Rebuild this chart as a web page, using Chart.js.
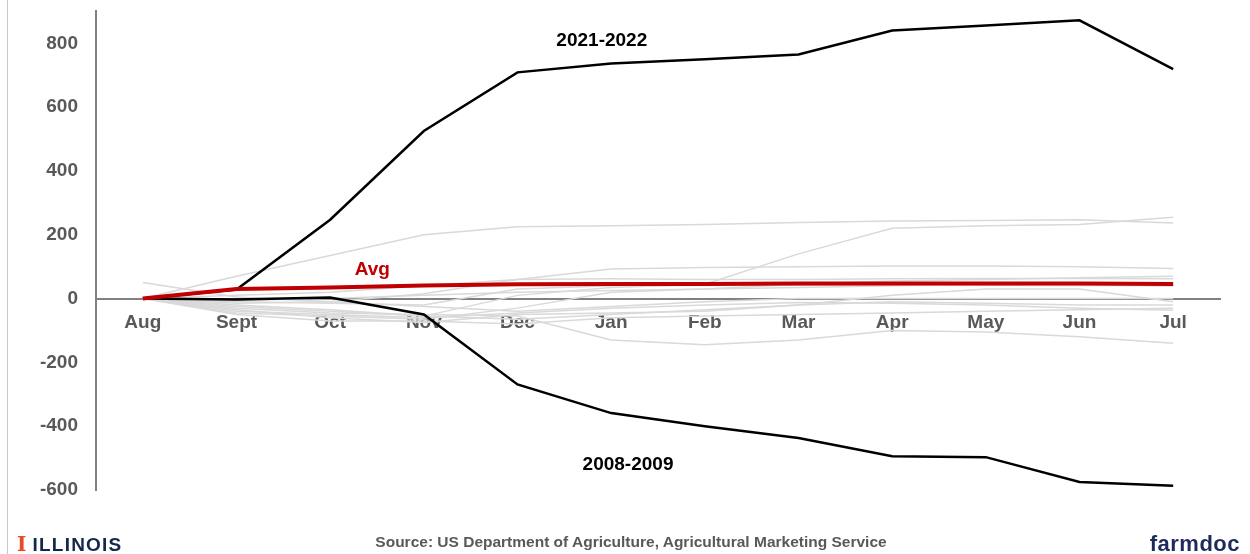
<!DOCTYPE html>
<html>
<head>
  <title>Cumulative change by marketing year</title>
  <style>
    body {
      margin: 0;
      background: #fff;
      font-family: 'Liberation Sans', Arial, sans-serif;
    }
    .wrap {
      position: relative;
      width: 1250px;
      height: 554px;
      overflow: hidden;
    }
    .edge {
      position: absolute;
      left: 7px;
      top: 0;
      width: 1px;
      height: 554px;
      background: #c8c8c8;
    }
    /* canvas shifted up so the plot starts near the top edge */
    canvas { position: absolute; left: 0; top: -18px; }
    .logo {
      position: absolute;
      left: 17px;
      top: 532px;
      font-size: 19px;
      font-weight: bold;
      color: #13294b;
      letter-spacing: 1.2px;
    }
    .logo span {
      font-family: 'DejaVu Serif', serif;
      color: #e84a27;
      font-size: 20px;
      margin-right: 5px;
    }
    .source {
      position: absolute;
      left: 0;
      width: 1262px;
      top: 533px;
      text-align: center;
      font-size: 15.5px;
      font-weight: bold;
      color: #595959;
    }
    .farmdoc {
      position: absolute;
      right: 10px;
      top: 531px;
      font-size: 22px;
      font-weight: bold;
      color: #1f2a5c;
      letter-spacing: 0.5px;
    }
  </style>
</head>
<body>
  <div class="wrap">
    <canvas id="chart" width="1250" height="572"></canvas>
    <div class="edge"></div>
    <div class="logo"><span>I</span>ILLINOIS</div>
    <div class="source">Source: US Department of Agriculture, Agricultural Marketing Service</div>
    <div class="farmdoc">farmdoc</div>
  </div>

  <script src="https://cdn.jsdelivr.net/npm/chart.js"></script>
  <script>
    // marketing year months
    const months = ["Aug", "Sept", "Oct", "Nov", "Dec", "Jan", "Feb", "Mar", "Apr", "May", "Jun", "Jul"];
    const yTicks = [-600, -400, -200, 0, 200, 400, 600, 800];

    const avg = [0, 30, 35, 41, 45, 46, 46, 47, 47, 47, 47, 46];
    const y2021 = [0, 28, 247, 525, 709, 737, 750, 765, 840, 856, 872, 719];
    const y2008 = [0, -3, 3, -50, -269, -359, -400, -437, -494, -497, -575, -587];

    // the other years, drawn in light gray
    const other1 = [0, 70, 135, 200, 225, 228, 232, 238, 243, 245, 247, 237];
    const other2 = [0, -20, -35, -55, 10, 35, 45, 140, 220, 228, 232, 255];
    const other3 = [0, -15, -10, 15, 60, 93, 97, 100, 102, 102, 100, 94];
    const other4 = [0, -30, -45, -50, -55, -130, -145, -130, -100, -105, -120, -140];
    const other5 = [0, 10, 20, 40, 60, 62, 60, 60, 62, 63, 63, 62];
    const other6 = [0, -10, -15, -20, 30, 40, 42, 42, 42, 42, 41, 40];
    const other7 = [0, -35, -60, -75, -50, -45, -40, -20, 10, 30, 30, -10];
    const other8 = [0, -40, -50, -60, -45, -30, -20, -12, -15, -20, -30, -37];
    const other9 = [50, 5, -10, -25, -40, -25, -10, 0, 0, 0, 0, 0];
    const other10 = [0, -25, -40, -55, -65, -50, -35, -20, -10, -15, -20, -20];
    const other11 = [0, -45, -55, -65, -30, 20, 30, 35, 40, 45, 45, 40];
    const other12 = [0, -5, 0, 10, 20, 25, 30, 45, 55, 60, 65, 70];
    const other13 = [0, -50, -70, -70, -80, -60, -55, -50, -45, -40, -35, -30];
    const others = [other1, other2, other3, other4, other5, other6, other7,
                    other8, other9, other10, other11, other12, other13];

    const labelFont = "bold 19px 'Liberation Sans', Arial, sans-serif";

    // text labels next to the lines, placed through the scales
    const notes = [
      { text: "2021-2022", x: 4.9, y: 809, color: "#000" },
      { text: "2008-2009", x: 5.18, y: -522, color: "#000" },
      { text: "Avg", x: 2.45, y: 90, color: "#c00000" }
    ];

    const notePlugin = {
      id: "notes",
      afterDatasetsDraw(chart) {
        const ctx = chart.ctx;
        const xs = chart.scales.x, ys = chart.scales.y;
        ctx.save();
        ctx.font = labelFont;
        ctx.textAlign = "center";
        ctx.textBaseline = "middle";
        notes.forEach(n => {
          ctx.fillStyle = n.color;
          ctx.fillText(n.text, xs.getPixelForValue(n.x), ys.getPixelForValue(n.y));
        });
        ctx.restore();
      }
    };

    const datasets = [
      { label: "Avg", data: avg, borderColor: "#c00000", borderWidth: 4 },
      { label: "2021-2022", data: y2021, borderColor: "#000", borderWidth: 2.5 },
      { label: "2008-2009", data: y2008, borderColor: "#000", borderWidth: 2.5 }
    ];
    others.forEach((d, i) => {
      datasets.push({ label: "year " + (i + 1), data: d, borderColor: "#d9d9d9", borderWidth: 1.5 });
    });
    datasets.forEach(d => {
      d.pointRadius = 0;
      d.tension = 0;
      d.fill = false;
    });

    new Chart(document.getElementById("chart"), {
      type: "line",
      data: { labels: months, datasets: datasets },
      options: {
        responsive: false,
        animation: false,
        layout: { padding: { top: 10, right: 30, bottom: 64, left: 0 } },
        plugins: { legend: { display: false }, tooltip: { enabled: false } },
        scales: {
          x: {
            position: { y: 0 },
            offset: true,
            grid: { display: false, drawTicks: false },
            border: { display: true, color: "#808080", width: 2 },
            ticks: {
              color: "#595959",
              font: { family: "'Liberation Sans', Arial, sans-serif", size: 19, weight: "bold" },
              padding: 13,
              maxRotation: 0,
              autoSkip: false
            }
          },
          y: {
            min: -600,
            max: 900,
            grid: { display: false, drawTicks: false },
            border: { display: true, color: "#808080", width: 2 },
            afterBuildTicks: s => { s.ticks = yTicks.map(v => ({ value: v })); },
            afterFit: s => { s.width = 96; },
            ticks: {
              color: "#595959",
              font: { family: "'Liberation Sans', Arial, sans-serif", size: 19, weight: "bold" },
              padding: 18
            }
          }
        }
      },
      plugins: [notePlugin]
    });
  </script>
</body>
</html>
